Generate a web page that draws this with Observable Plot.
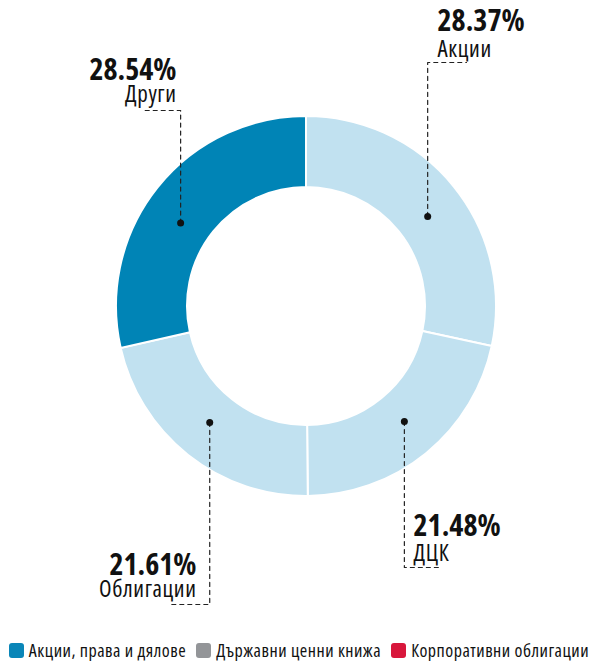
<!DOCTYPE html>
<html>
<head>
<meta charset="utf-8">
<script src="https://cdn.jsdelivr.net/npm/d3@7"></script>
<script src="https://cdn.jsdelivr.net/npm/@observablehq/plot@0.6"></script>
<style>
  html, body { margin: 0; padding: 0; background: #fff; }
  #chart { width: 598px; height: 630px; }
  .legend { display: flex; justify-content: center; align-items: center; height: 28px; padding-top: 6px; gap: 10px;
    font-family: "Open Sans", sans-serif; font-stretch: 75%; font-size: 18px; letter-spacing: 0.5px; color: #111; white-space: nowrap; }
  .legend .item { display: flex; align-items: center; gap: 5px; }
  .legend .sw { width: 15px; height: 15px; border-radius: 3px; display: inline-block; }
</style>
</head>
<body>
<div id="chart"></div>
<script>
// ---- data ----
const categories = ["Акции", "ДЦК", "Облигации", "Други"];
const shares = [28.37, 21.48, 21.61, 28.54];
const shareLabels = ["28.37%", "21.48%", "21.61%", "28.54%"];
const sliceColors = ["#c1e1f0", "#c1e1f0", "#c1e1f0", "#0084b6"];
const legendLabels = ["Акции, права и дялове", "Държавни ценни книжа", "Корпоративни облигации"];
const legendColors = ["#0a86b8", "#939598", "#d8173c"];

// ---- layout (pixel offsets from centre) ----
const R = 190, R0 = 119, DOT_R = 151;
const layout = {
  "Акции":     {angleShift: 2.3,  elbowY: -244, endX: 160,  textX: 131,  pctY: -285, nameY: -257, anchor: "start"},
  "ДЦК":       {angleShift: -1.2, elbowY: 261,  endX: 134,  textX: 107,  pctY: 220,  nameY: 247,  anchor: "start"},
  "Облигации": {angleShift: 1.5,  elbowY: 298,  endX: -136, textX: -110, pctY: 259,  nameY: 283,  anchor: "end"},
  "Други":     {angleShift: -5.1, elbowY: -196, endX: -163, textX: -130, pctY: -236, nameY: -212, anchor: "end"}
};
const FONT = '"Open Sans", sans-serif';
const PCT_SIZE = 30, NAME_SIZE = 23;

const data = categories.map((c, i) => ({category: c, value: shares[i], label: shareLabels[i], color: sliceColors[i]}));
const arcs = d3.pie().sort(null).value(d => d.value)(data);
arcs.forEach(a => {
  const m = (a.startAngle + a.endAngle) / 2 + layout[a.data.category].angleShift * Math.PI / 180;
  a.dx = DOT_R * Math.sin(m);
  a.dy = -DOT_R * Math.cos(m);
});

const leaders = arcs.flatMap(a => {
  const L = layout[a.data.category];
  return [
    {category: a.data.category, x: a.dx, y: a.dy},
    {category: a.data.category, x: a.dx, y: L.elbowY},
    {category: a.data.category, x: L.endX, y: L.elbowY}
  ];
});
const texts = arcs.flatMap(a => {
  const L = layout[a.data.category];
  return [
    {x: L.textX, y: L.pctY, text: a.data.label, kind: "pct", anchor: L.anchor},
    {x: L.textX, y: L.nameY, text: a.data.category, kind: "name", anchor: L.anchor}
  ];
});

const W = 598, H = 630, CX = 306, CY = 306;

function donut(index, scales) {
  const cx = scales.x(0), cy = scales.y(0);
  const rOut = scales.x(R) - cx, rIn = scales.x(R0) - cx;
  const arcGen = d3.arc().innerRadius(rIn).outerRadius(rOut);
  const g = d3.create("svg:g").attr("transform", `translate(${cx},${cy})`);
  g.selectAll("path").data(arcs).join("path")
    .attr("d", arcGen)
    .attr("fill", d => d.data.color)
    .attr("stroke", "#fff")
    .attr("stroke-width", 2);
  return g.node();
}

const textMark = (kind, anchor) => Plot.text(texts.filter(t => t.kind === kind && t.anchor === anchor), {
  x: "x", y: "y", text: "text", textAnchor: anchor,
  fontSize: kind === "pct" ? PCT_SIZE : NAME_SIZE,
  fontWeight: kind === "pct" ? "bold" : "normal",
  fill: "#111"
});

const chart = Plot.plot({
  width: W, height: H,
  marginTop: 0, marginBottom: 0, marginLeft: 0, marginRight: 0,
  x: {domain: [-CX, W - CX], range: [0, W], axis: null},
  y: {domain: [-CY, H - CY], range: [0, H], axis: null},
  style: {fontFamily: FONT, fontStretch: "75%", background: "#fff"},
  marks: [
    donut,
    Plot.line(leaders, {x: "x", y: "y", z: "category", stroke: "#222", strokeWidth: 1.2, strokeDasharray: "4,4"}),
    Plot.dot(arcs, {x: "dx", y: "dy", r: 3.5, fill: "#111", stroke: null}),
    textMark("pct", "start"), textMark("pct", "end"),
    textMark("name", "start"), textMark("name", "end")
  ]
});
document.getElementById("chart").appendChild(chart);

// category names are set a little looser than the bold percentages
d3.select(chart).selectAll(`g[font-size="${NAME_SIZE}"] text`).style("letter-spacing", "0.6px");

const legend = d3.select("body").append("div").attr("class", "legend");
legendLabels.forEach((l, i) => {
  const it = legend.append("div").attr("class", "item");
  it.append("span").attr("class", "sw").style("background", legendColors[i]);
  it.append("span").text(l);
});
</script>
</body>
</html>
